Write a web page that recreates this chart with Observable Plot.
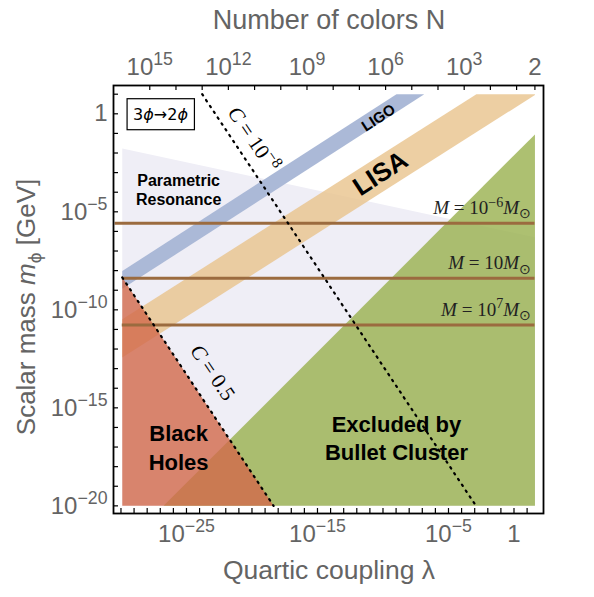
<!DOCTYPE html>
<html><head><meta charset="utf-8">
<script src="https://cdn.jsdelivr.net/npm/d3@7"></script>
<script src="https://cdn.jsdelivr.net/npm/@observablehq/plot@0.6"></script>
<style>body{margin:0;background:#fff;}</style>
</head><body><div id="chart"></div>
<script>
// ---------- data (log10 values) ----------
const lamTickExp = d3.range(-30, 2);            // bottom tick marks, λ = 10^k
const lamLabelExp = [-25, -15, -5, 0];          // labelled λ ticks
const massTickExp = d3.range(-20, 2);           // left tick marks, m = 10^k
const massLabelExp = [0, -5, -10, -15, -20];    // labelled m ticks
const colorTickN = [1e15,1e14,1e13,1e12,1e11,1e10,1e9,1e8,1e7,1e6,1e5,1e4,1e3,1e2,1e1,2];
const colorLabelN = [1e15, 1e12, 1e9, 1e6, 1e3, 2];
const colorLabelText = ["10^{15}", "10^{12}", "10^{9}", "10^{6}", "10^{3}", "2"];

// regions: polygon vertices (log10 λ, log10 m)
const resonanceLam = [-29.9, 1.6, 1.6, -29.9];
const resonanceM   = [-1.77, -6.3, -20, -20];
const ligoLam = [-29.9, -8.97, -6.85, -29.9];
const ligoM   = [-8.02, 1.0, 1.0, -8.93];
const lisaLam = [-29.9, -2.87, 1.6, 1.6, -29.9];
const lisaM   = [-10.48, 1.0, 1.0, 0.96, -12.43];
const bulletLam = [-26.75, 1.6, 1.6];
const bulletM   = [-20, -1.05, -20];
const holesLam = [-29.9, -18.35, -29.9];
const holesM   = [-8.35, -20, -20];
// dotted C lines
const cHalfLam = [-29.9, -18.35];
const cHalfM   = [-8.35, -20];
const cSmallLam = [-23.8, -2.9];
const cSmallM   = [1.0, -20];
// BH mass lines
const massLineM  = [-5.58, -8.39, -10.77];
const massLineX1 = [-30.45, -29.9, -29.9];
const massLineLabel = ["*M* = 10^{−6}*M*_{⊙}", "*M* = 10*M*_{⊙}", "*M* = 10^{7}*M*_{⊙}"];

// ---------- helpers ----------
const poly = (L, M) => L.map((l, i) => ({x: 10 ** l, y: 10 ** M[i]}));
const lamOfN = n => (4 * Math.PI) ** 2 / (n * n);
const supFmt = k => k === 0 ? "1" : `10^{${k < 0 ? "−" : ""}${Math.abs(k)}}`;
const topLabel = d => {
  let best = 0, bd = Infinity;
  colorLabelN.forEach((n, i) => { const e = Math.abs(Math.log10(lamOfN(n)) - Math.log10(d)); if (e < bd) { bd = e; best = i; } });
  return colorLabelText[best];
};

const W = 594, H = 597, mL = 113, mR = 51, mT = 85, mB = 84;
const fw = W - mL - mR, fh = H - mT - mB;
const gray = "#646464";
const dots = {stroke: "black", strokeWidth: 2.2, strokeDasharray: "1.5,5.5"};

const plot = Plot.plot({
  width: W, height: H, marginLeft: mL, marginRight: mR, marginTop: mT, marginBottom: mB,
  style: {fontFamily: "'Liberation Sans', Arial, sans-serif", background: "white", overflow: "visible"},
  x: {type: "log", domain: [10 ** -30.57, 10 ** 2.252]},
  y: {type: "log", domain: [10 ** -20.39, 10 ** 1.444]},
  marks: [
    Plot.line(poly(resonanceLam, resonanceM), {x: "x", y: "y", fill: "#efeef6", stroke: "none"}),
    Plot.line(poly(ligoLam, ligoM), {x: "x", y: "y", fill: "#a7b5d5", fillOpacity: 0.95, stroke: "none"}),
    Plot.line(poly(lisaLam, lisaM), {x: "x", y: "y", fill: "#e8c38c", fillOpacity: 0.8, stroke: "none"}),
    Plot.line(poly(bulletLam, bulletM), {x: "x", y: "y", fill: "#98b04e", fillOpacity: 0.8, stroke: "none"}),
    Plot.line(poly(holesLam, holesM), {x: "x", y: "y", fill: "#d2694b", fillOpacity: 0.8, stroke: "none"}),
    Plot.ruleY(massLineM.map((m, i) => ({m: 10 ** m, x1: 10 ** massLineX1[i]})),
      {y: "m", x1: "x1", x2: 10 ** 1.6, stroke: "#9b6b3f", strokeWidth: 3}),
    Plot.line(poly(cHalfLam, cHalfM), {x: "x", y: "y", ...dots}),
    Plot.line(poly(cSmallLam, cSmallM), {x: "x", y: "y", ...dots}),
    // labels
    Plot.text(["Parametric\nResonance"], {x: 10 ** -25.6, y: 10 ** -3.84, text: d => d, fontSize: 16, fontWeight: "bold", lineHeight: 1.2, fill: "black"}),
    Plot.text(["Black\nHoles"], {x: 10 ** -25.6, y: 10 ** -16.95, text: d => d, fontSize: 22, fontWeight: "bold", lineHeight: 1.3, fill: "black"}),
    Plot.text(["Excluded by\nBullet Cluster"], {x: 10 ** -8.97, y: 10 ** -16.49, text: d => d, fontSize: 22, fontWeight: "bold", lineHeight: 1.3, fill: "black"}),
    Plot.text(["LIGO"], {x: 10 ** -10.34, y: 10 ** -0.21, text: d => d, fontSize: 15, fontWeight: "bold", rotate: -33, fill: "black"}),
    Plot.text(["LISA"], {x: 10 ** -10.19, y: 10 ** -3.05, text: d => d, fontSize: 26, fontWeight: "bold", rotate: -33, fill: "black"}),
    Plot.text(["*C* = 10^{−8}"], {x: 10 ** -19.9, y: 10 ** -1.3, text: d => d, fontSize: 21, fontFamily: "'Liberation Serif', serif", rotate: 56, fill: "black"}),
    Plot.text(["*C* = 0.5"], {x: 10 ** -23.0, y: 10 ** -13.2, text: d => d, fontSize: 21, fontFamily: "'Liberation Serif', serif", rotate: 56, fill: "black"}),
    Plot.text(massLineLabel, {x: 10 ** 1.3, y: (d, i) => 10 ** massLineM[i], text: d => d, textAnchor: "end", dy: -15, fontSize: 19, fontFamily: "'Liberation Serif', serif", fill: "#222"}),
    Plot.text(["3*ϕ*→2*ϕ*"], {x: 10 ** -26.98, y: 10 ** -0.04, text: d => d, fontSize: 16, fontFamily: "'DejaVu Sans', sans-serif", fill: "black", className: "procbox"}),
    // ticks (inward)
    Plot.ruleX(lamTickExp.map(k => 10 ** k), {x: d => d, insetTop: fh - 5, stroke: "black", strokeWidth: 1.2}),
    Plot.ruleX(colorTickN.map(lamOfN), {x: d => d, insetBottom: fh - 5, stroke: "black", strokeWidth: 1.2}),
    Plot.ruleY(massTickExp.map(k => 10 ** k), {y: d => d, insetRight: fw - 5, stroke: "black", strokeWidth: 1.2}),
    Plot.frame({stroke: "black", strokeWidth: 1.8}),
    Plot.axisX(lamLabelExp.map(k => 10 ** k), {anchor: "bottom", tickSize: 0, tickPadding: 11, fontSize: 24, color: gray, label: null,
      tickFormat: d => supFmt(Math.round(Math.log10(d)))}),
    Plot.axisX(colorLabelN.map(lamOfN), {anchor: "top", tickSize: 0, tickPadding: 11, fontSize: 24, color: gray, label: null,
      tickFormat: topLabel}),
    Plot.axisY(massLabelExp.map(k => 10 ** k), {anchor: "left", tickSize: 0, tickPadding: 6, fontSize: 24, color: gray, label: null,
      tickFormat: d => supFmt(Math.round(Math.log10(d)))})
  ]
});

document.getElementById("chart").appendChild(plot);
const svg = d3.select(plot);

// axis titles
svg.append("text").attr("x", 329).attr("y", 29).attr("text-anchor", "middle")
  .attr("font-size", 27).attr("fill", gray).text("Number of colors N");
svg.append("text").attr("x", 329).attr("y", 579).attr("text-anchor", "middle")
  .attr("font-size", 26.5).attr("fill", gray).text("Quartic coupling λ");
svg.append("text").attr("transform", "translate(35,307) rotate(-90)").attr("text-anchor", "middle")
  .attr("font-size", 26).attr("fill", gray).text("Scalar mass *m*_{ϕ} [GeV]");

// rich text: ^{sup}, _{sub}, *italic*
function richify(el) {
  const s = el.textContent;
  if (el.querySelector("tspan")) return;
  if (!/\^\{|_\{|\*/.test(s)) return;
  const fs = parseFloat(getComputedStyle(el).fontSize);
  const parts = s.split(/(\^\{[^}]*\}|_\{[^}]*\}|\*[^*]+\*)/).filter(p => p !== "");
  while (el.firstChild) el.removeChild(el.firstChild);
  let cur = 0;
  for (const p of parts) {
    const t = document.createElementNS("http://www.w3.org/2000/svg", "tspan");
    let target = 0, txt = p, small = false, italic = false;
    if (p.startsWith("^{")) { target = -0.4 * fs; txt = p.slice(2, -1); small = true; }
    else if (p.startsWith("_{")) { target = 0.22 * fs; txt = p.slice(2, -1); small = true; }
    else if (p.startsWith("*")) { txt = p.slice(1, -1); italic = true; }
    if (target !== cur) { t.setAttribute("dy", target - cur); cur = target; }
    if (small) t.setAttribute("font-size", 0.74 * fs);
    if (italic) t.setAttribute("font-style", "italic");
    t.textContent = txt;
    el.appendChild(t);
  }
}
svg.selectAll("text").each(function () { richify(this); });

// box around process label
const svgRect = plot.getBoundingClientRect();
svg.selectAll(".procbox text").each(function () {
  const b = this.getBoundingClientRect();
  svg.append("rect")
    .attr("x", b.left - svgRect.left - 6).attr("y", b.top - svgRect.top - 6)
    .attr("width", b.width + 12).attr("height", b.height + 12)
    .attr("fill", "none").attr("stroke", "black").attr("stroke-width", 1.2);
});
</script>
</body></html>
